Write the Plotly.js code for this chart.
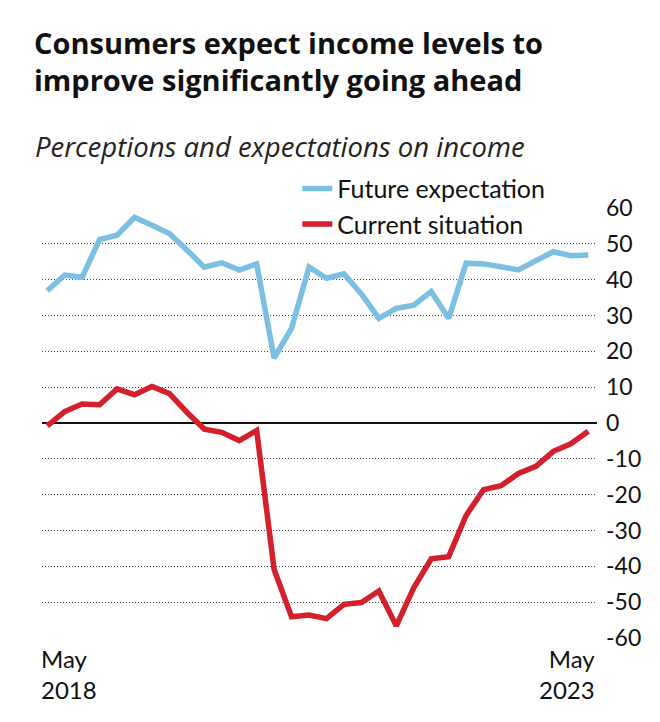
<!DOCTYPE html>
<html>
<head>
<meta charset="utf-8">
<script src="https://cdn.plot.ly/plotly-3.0.1.min.js"></script>
<style>
  html, body { margin: 0; padding: 0; background: #fff; }
  #chart { width: 660px; height: 722px; }
</style>
</head>
<body>
<div id="chart"></div>
<script>
// Survey rounds (bimonthly RBI consumer confidence survey), first = May 2018, last = May 2023
const surveyRound = [0,1,2,3,4,5,6,7,8,9,10,11,12,13,14,15,16,17,18,19,20,21,22,23,24,25,26,27,28,29,30,31];

const futureExpectation = [36.9, 41.3, 40.7, 51.2, 52.4, 57.4, 55.2, 52.9, 48.3, 43.5,
                           44.7, 42.7, 44.4, 18.1, 26.5, 43.5, 40.4, 41.6, 36.0, 29.2,
                           32.0, 32.9, 36.7, 29.2, 44.6, 44.4, 43.6, 42.7, 45.3, 47.8,
                           46.7, 46.9];

const currentSituation = [-0.8, 3.2, 5.3, 5.1, 9.5, 7.9, 10.2, 8.2, 3.0, -1.7,
                          -2.6, -4.9, -2.1, -40.9, -54.1, -53.6, -54.6, -50.6, -50.1, -46.9,
                          -56.6, -46.0, -37.9, -37.3, -25.8, -18.6, -17.5, -14.1, -12.1, -7.9,
                          -5.8, -2.3];

const seriesNames = ["Future expectation", "Current situation"];
const yTickVals = [60, 50, 40, 30, 20, 10, 0, -10, -20, -30, -40, -50, -60];
const yTickText = ["60", "50", "40", "30", "20", "10", "0", "-10", "-20", "-30", "-40", "-50", "-60"];
const xTickLabels = ["May<br>2018", "May<br>2023"];

const FONT = "Lato, 'Noto Sans', sans-serif";
const TFONT = "'Open Sans', 'Noto Sans', sans-serif";
const BLUE = "#7bbfe2";
const RED = "#d41f2c";

const traces = [
  {
    x: surveyRound, y: futureExpectation, name: seriesNames[0],
    type: "scatter", mode: "lines",
    line: { color: BLUE, width: 5.5, shape: "linear" },
    hoverinfo: "skip"
  },
  {
    x: surveyRound, y: currentSituation, name: seriesNames[1],
    type: "scatter", mode: "lines",
    line: { color: RED, width: 5.5, shape: "linear" },
    hoverinfo: "skip"
  }
];

const layout = {
  width: 660, height: 722,
  paper_bgcolor: "#fff", plot_bgcolor: "#fff",
  margin: { l: 42, r: 63, t: 207.5, b: 84, pad: 0 },
  font: { family: FONT, color: "#111" },
  title: {
    text: "<b>Consumers expect income levels to<br>improve significantly going ahead</b>",
    font: { family: TFONT, size: 29, color: "#111" },
    x: 34 / 660, xanchor: "left", xref: "container",
    y: 1 - 53.5 / 722, yanchor: "middle", yref: "container"
  },
  showlegend: true,
  legend: {
    x: 0.46, xanchor: "left", y: 1.098, yanchor: "top",
    bgcolor: "rgba(0,0,0,0)", borderwidth: 0,
    font: { family: FONT, size: 25, color: "#111" },
    itemwidth: 30, traceorder: "normal"
  },
  xaxis: {
    range: [-0.3, 31.5],
    showgrid: false, zeroline: false, showline: false,
    showticklabels: false, ticks: "", fixedrange: true
  },
  yaxis: {
    range: [-60, 60], side: "right",
    tickmode: "array", tickvals: yTickVals, ticktext: yTickText,
    showgrid: true, gridcolor: "#444", gridwidth: 1, griddash: "1px,2px",
    zeroline: true, zerolinecolor: "#111", zerolinewidth: 1.5,
    showline: false, ticks: "", ticklabelstandoff: 8,
    tickfont: { family: FONT, size: 23, color: "#111" },
    fixedrange: true
  },
  annotations: [
    {
      text: "<i>Perceptions and expectations on income</i>",
      xref: "paper", yref: "paper", x: -9 / 555, y: 1 + (207.5 - 146) / 430.5,
      xanchor: "left", yanchor: "middle", showarrow: false,
      font: { family: TFONT, size: 27.5, color: "#222" }
    },
    {
      text: xTickLabels[0], xref: "paper", yref: "paper", x: -3 / 555, y: 0,
      xanchor: "left", yanchor: "top", align: "left", yshift: -4, showarrow: false,
      font: { family: FONT, size: 24, color: "#111" }
    },
    {
      text: xTickLabels[1], xref: "paper", yref: "paper", x: 1, y: 0,
      xanchor: "right", yanchor: "top", align: "right", yshift: -4, showarrow: false,
      font: { family: FONT, size: 24, color: "#111" }
    }
  ]
};

Plotly.newPlot("chart", traces, layout, { displayModeBar: false, staticPlot: true });
</script>
</body>
</html>
